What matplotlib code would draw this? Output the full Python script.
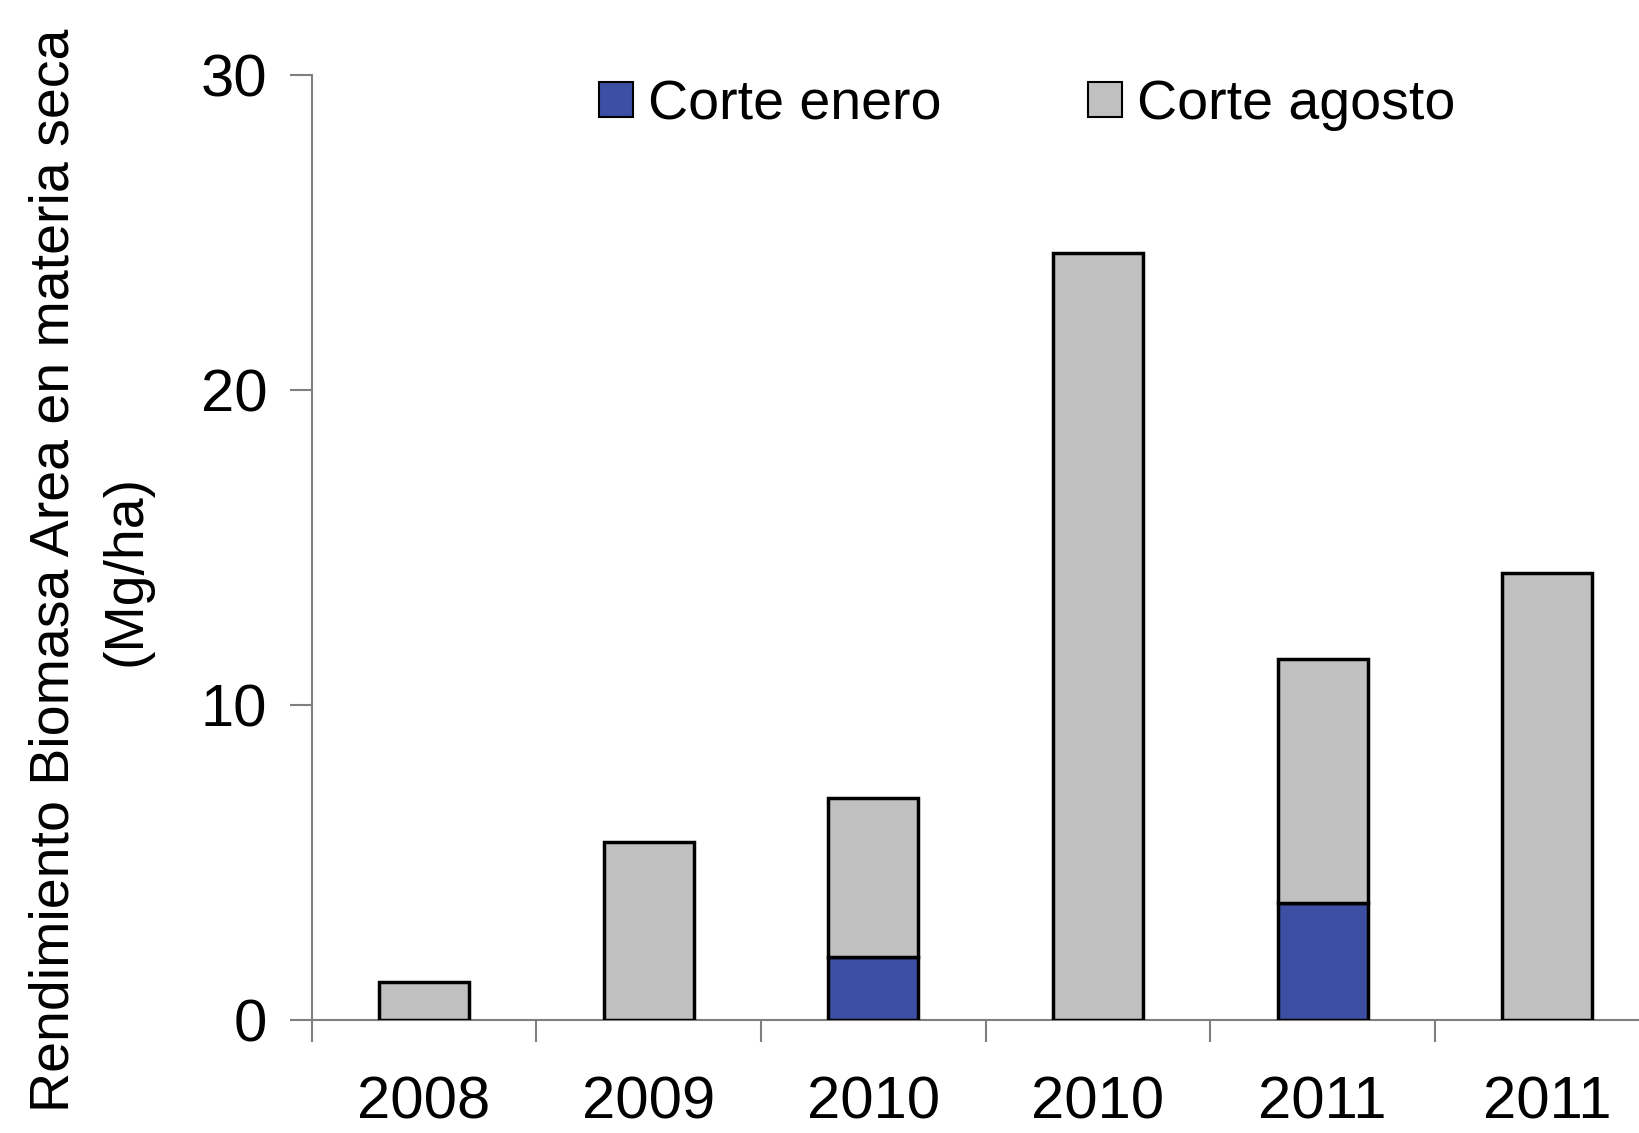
import numpy as np
import matplotlib.pyplot as plt
from matplotlib.patches import Patch

plt.rcParams['font.family'] = ['Liberation Sans', 'DejaVu Sans']

# Biomass yield per harvest (Mg/ha dry matter)
years = ['2008', '2009', '2010', '2010', '2011', '2011']
corte_enero = [0.0, 0.0, 2.0, 0.0, 3.7, 0.0]
corte_agosto = [1.2, 5.65, 5.05, 24.35, 7.75, 14.2]

blue = '#3c4fa3'
grey = '#c0c0c0'
axis_col = '#7f7f7f'

fig = plt.figure(figsize=(16.4, 11.33), dpi=100)
ax = fig.add_axes([0.190, 0.0998, 0.822, 0.8338])

x = np.arange(len(years))
ax.bar(x, corte_enero, width=0.4, color=blue, edgecolor='black', linewidth=2.5, zorder=3)
ax.bar(x, corte_agosto, width=0.4, bottom=corte_enero, color=grey,
       edgecolor='black', linewidth=2.5, zorder=3)

ax.set_xlim(-0.5, len(years) - 0.5)
ax.set_ylim(0, 30)
ax.set_yticks([0, 10, 20, 30])

# category boundaries carry the tick marks, labels sit in between
ax.set_xticks(np.arange(-0.5, len(years), 1.0))
ax.set_xticklabels([])
ax.set_xticks(x, minor=True)
ax.set_xticklabels(years, minor=True)
ax.tick_params(axis='x', which='major', direction='out', length=16, width=1.5, color=axis_col)
ax.tick_params(axis='x', which='minor', length=0, pad=40, labelsize=43)
ax.tick_params(axis='y', direction='out', length=16, width=1.5, color=axis_col,
               pad=16, labelsize=43)

for side in ['top', 'right']:
    ax.spines[side].set_visible(False)
for side in ['left', 'bottom']:
    ax.spines[side].set_color(axis_col)
    ax.spines[side].set_linewidth(1.5)

ax.set_ylabel('Rendimiento Biomasa Area en materia seca\n(Mg/ha)', fontsize=40,
              linespacing=1.5)
ax.yaxis.set_label_coords(-0.118, 0.476)

handles = [Patch(facecolor=blue, edgecolor='black', linewidth=1.5),
           Patch(facecolor=grey, edgecolor='black', linewidth=1.5)]
fig.legend(handles, ['Corte enero', 'Corte agosto'], loc='upper left',
           bbox_to_anchor=(599 / 1640, 1 - 79 / 1133), ncol=2, frameon=False,
           fontsize=40, handlelength=0.61, handleheight=0.61, handletextpad=0.27,
           columnspacing=2.64, borderpad=0, borderaxespad=0)

fig.savefig('out.png', dpi=100)
